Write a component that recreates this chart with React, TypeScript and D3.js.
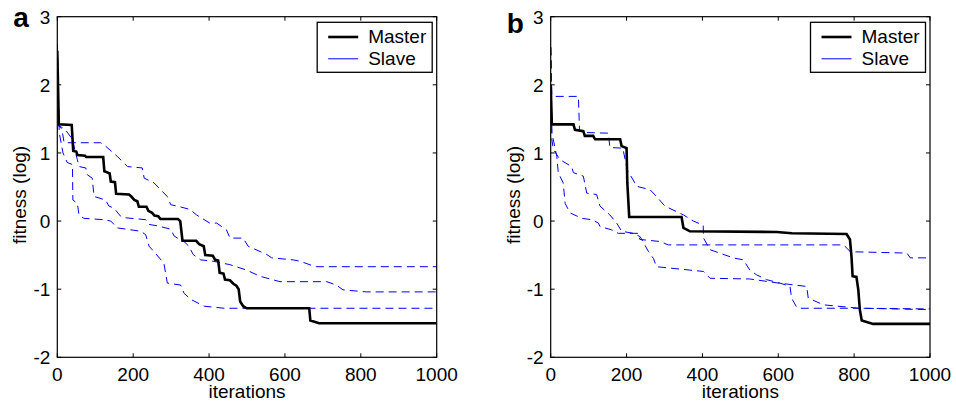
import React from 'react';
import * as d3 from 'd3';

type Pt = [number, number];

// iterations vs fitness (log)
const masterA: Pt[] = [[0,2.5],[4,1.42],[38,1.41],[42,1.03],[50,1.02],[53,0.97],[73,0.96],[76,0.94],[121,0.94],[124,0.73],[138,0.70],[141,0.58],[152,0.57],[155,0.40],[189,0.39],[195,0.36],[203,0.31],[211,0.29],[215,0.21],[235,0.21],[240,0.15],[250,0.12],[256,0.08],[266,0.07],[272,0.03],[318,0.03],[324,0.0],[330,-0.29],[366,-0.29],[374,-0.34],[386,-0.37],[390,-0.50],[410,-0.51],[416,-0.57],[424,-0.58],[428,-0.76],[438,-0.77],[442,-0.86],[455,-0.87],[464,-0.92],[472,-0.95],[478,-1.0],[482,-1.18],[490,-1.25],[499,-1.28],[664,-1.28],[667,-1.46],[690,-1.5],[1000,-1.5]];
const slaveA1: Pt[] = [[0,2.6],[3,1.4],[12,1.35],[18,1.15],[114,1.15],[123,1.12],[158,0.95],[185,0.80],[224,0.78],[229,0.63],[255,0.56],[290,0.36],[299,0.24],[323,0.21],[350,0.17],[367,0.09],[402,-0.03],[420,-0.03],[446,-0.13],[455,-0.25],[490,-0.25],[503,-0.37],[552,-0.49],[565,-0.54],[622,-0.57],[640,-0.59],[675,-0.66],[684,-0.67],[1000,-0.67]];
const slaveA2: Pt[] = [[0,2.6],[4,1.4],[20,1.35],[40,1.2],[48,1.0],[53,0.90],[57,0.80],[75,0.78],[79,0.68],[92,0.63],[97,0.36],[127,0.31],[136,0.22],[149,0.19],[167,0.07],[176,0.05],[233,0.02],[242,-0.05],[264,-0.07],[299,-0.12],[308,-0.22],[323,-0.27],[334,-0.30],[347,-0.37],[358,-0.49],[378,-0.57],[411,-0.59],[455,-0.64],[499,-0.72],[534,-0.81],[587,-0.89],[710,-0.89],[736,-0.94],[753,-1.01],[815,-1.04],[1000,-1.04]];
const slaveA3: Pt[] = [[0,2.6],[5,1.3],[15,1.0],[26,0.86],[40,0.83],[41,0.31],[53,0.26],[57,0.09],[70,0.04],[123,0.02],[141,0.0],[158,-0.10],[220,-0.15],[233,-0.20],[242,-0.37],[255,-0.45],[281,-0.62],[290,-0.91],[325,-0.94],[334,-1.06],[352,-1.15],[387,-1.25],[440,-1.28],[1000,-1.28]];

const masterB: Pt[] = [[0,2.0],[3,1.42],[60,1.42],[64,1.34],[86,1.32],[90,1.25],[112,1.25],[117,1.20],[183,1.20],[187,1.10],[200,1.07],[202,0.56],[207,0.06],[345,0.06],[350,-0.10],[367,-0.15],[596,-0.16],[636,-0.18],[780,-0.19],[789,-0.27],[793,-0.52],[796,-0.81],[806,-0.82],[811,-1.01],[815,-1.30],[820,-1.46],[850,-1.51],[1000,-1.51]];
const slaveB1: Pt[] = [[0,2.55],[3,1.85],[8,1.83],[73,1.83],[76,1.32],[90,1.30],[152,1.29],[156,1.08],[190,1.07],[202,0.75],[227,0.51],[262,0.46],[279,0.36],[301,0.22],[350,0.09],[376,0.0],[402,-0.06],[403,-0.25],[420,-0.42],[481,-0.54],[508,-0.57],[525,-0.72],[543,-0.79],[569,-0.86],[604,-0.91],[631,-0.96],[635,-1.13],[648,-1.26],[657,-1.28],[815,-1.28],[1000,-1.30]];
const slaveB2: Pt[] = [[0,2.55],[3,1.2],[7,1.05],[25,0.90],[55,0.80],[60,0.71],[86,0.66],[95,0.41],[121,0.39],[130,0.22],[156,0.09],[174,-0.03],[187,-0.15],[218,-0.18],[236,-0.23],[258,-0.45],[271,-0.55],[279,-0.67],[314,-0.69],[403,-0.74],[420,-0.84],[525,-0.85],[600,-0.91],[675,-0.96],[679,-1.13],[719,-1.23],[815,-1.28],[1000,-1.29]];
const slaveB3: Pt[] = [[0,2.55],[3,1.3],[16,0.95],[20,0.71],[33,0.56],[38,0.26],[51,0.12],[82,0.04],[108,0.02],[126,-0.03],[130,-0.08],[161,-0.13],[178,-0.18],[231,-0.18],[235,-0.27],[288,-0.30],[310,-0.35],[772,-0.35],[790,-0.45],[939,-0.47],[948,-0.54],[1000,-0.54]];

const xTicks = [0, 200, 400, 600, 800, 1000];
const yTicks = [-2, -1, 0, 1, 2, 3];
const legendLabels = ['Master', 'Slave'];

const W = 956, H = 401;
const top = 16.7, bottom = 357.3;
const font = '"Liberation Sans", Arial, Helvetica, sans-serif';

function Panel({ left, right, letter, master, slaves }:
  { left: number; right: number; letter: string; master: Pt[]; slaves: Pt[][] }) {
  const x = d3.scaleLinear().domain([0, 1000]).range([left, right]);
  const y = d3.scaleLinear().domain([-2, 3]).range([bottom, top]);
  const line = d3.line<Pt>().x(d => x(d[0])).y(d => y(d[1]));
  const tk = 4;
  const lgR = right - 4.5, lgT = top + 5.6, lgW = 115, lgH = 50;
  const lgL = lgR - lgW;

  return (
    <g>
      <defs>
        <clipPath id={'clip-' + letter}>
          <rect x={left} y={top} width={right - left} height={bottom - top} />
        </clipPath>
      </defs>
      <g clipPath={`url(#clip-${letter})`}>
        {slaves.map((s, i) => (
          <path key={i} d={line(s) || ''} fill="none" stroke="#0000ff" strokeWidth={1} strokeDasharray="8,5" />
        ))}
        <path d={line(master) || ''} fill="none" stroke="#000" strokeWidth={2.6} strokeLinejoin="miter" />
      </g>

      {/* frame + ticks on all sides */}
      <rect x={left} y={top} width={right - left} height={bottom - top} fill="none" stroke="#000" strokeWidth={1.2} />
      {xTicks.map(t => (
        <g key={'x' + t}>
          <line x1={x(t)} x2={x(t)} y1={bottom} y2={bottom - tk} stroke="#000" />
          <line x1={x(t)} x2={x(t)} y1={top} y2={top + tk} stroke="#000" />
          <text x={x(t)} y={bottom + 23.5} textAnchor="middle" fontSize={19} fontFamily={font}>{t}</text>
        </g>
      ))}
      {yTicks.map(t => (
        <g key={'y' + t}>
          <line x1={left} x2={left + tk} y1={y(t)} y2={y(t)} stroke="#000" />
          <line x1={right} x2={right - tk} y1={y(t)} y2={y(t)} stroke="#000" />
          <text x={left - 7} y={y(t)} dy="0.36em" textAnchor="end" fontSize={19} fontFamily={font}>{t}</text>
        </g>
      ))}

      <text x={(left + right) / 2} y={398} textAnchor="middle" fontSize={19} fontFamily={font}>iterations</text>
      <text transform={`translate(${left - 31},195) rotate(-90)`} textAnchor="middle" fontSize={19} fontFamily={font}>fitness (log)</text>
      <text x={left - 44} y={letter === 'a' ? 27 : 33} fontSize={28} fontWeight="bold" fontFamily={font}>{letter}</text>

      {/* legend */}
      <rect x={lgL} y={lgT} width={lgW} height={lgH} fill="#fff" stroke="#000" strokeWidth={1.3} />
      <line x1={lgL + 11} x2={lgL + 41} y1={lgT + 14.7} y2={lgT + 14.7} stroke="#000" strokeWidth={2.6} />
      <line x1={lgL + 11} x2={lgL + 41} y1={lgT + 36.5} y2={lgT + 36.5} stroke="#0000ff" strokeWidth={1} />
      {legendLabels.map((l, i) => (
        <text key={l} x={lgL + 51} y={lgT + 21 + i * 21.7} fontSize={19} fontFamily={font}>{l}</text>
      ))}
    </g>
  );
}

export default function App() {
  return (
    <svg width={W} height={H} style={{ position: 'absolute', left: 0, top: 0, background: '#fff' }}>
      <Panel left={57.3} right={436.7} letter="a" master={masterA} slaves={[slaveA1, slaveA2, slaveA3]} />
      <Panel left={550.7} right={930} letter="b" master={masterB} slaves={[slaveB1, slaveB2, slaveB3]} />
    </svg>
  );
}
